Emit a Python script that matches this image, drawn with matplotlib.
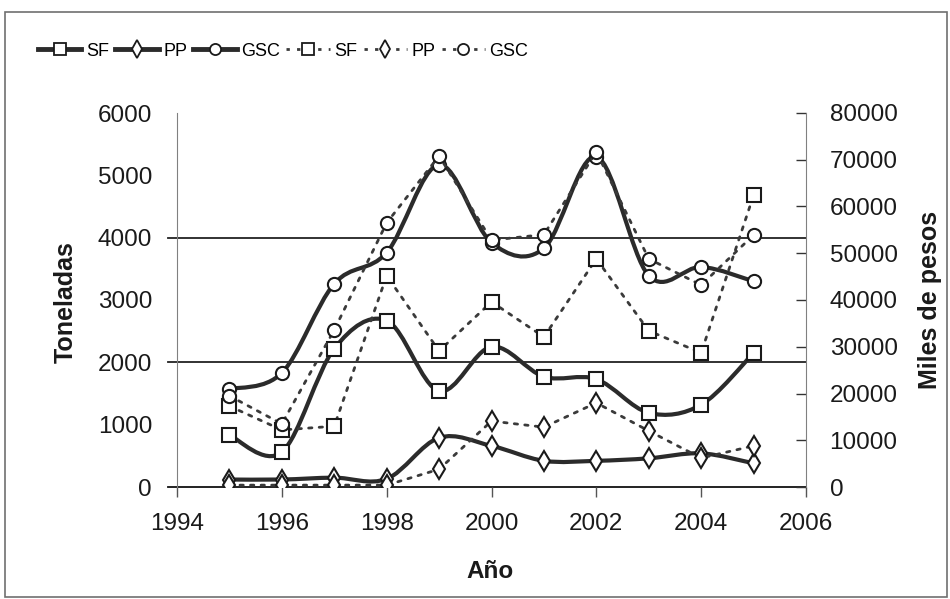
import matplotlib
matplotlib.use('Agg')
import matplotlib.pyplot as plt
from matplotlib.path import Path
from matplotlib.patches import PathPatch, Rectangle
from matplotlib.lines import Line2D

plt.rcParams['font.family'] = ['Liberation Sans', 'DejaVu Sans']

# Data
years = [1995, 1996, 1997, 1998, 1999, 2000, 2001, 2002, 2003, 2004, 2005]

# Toneladas (left axis, solid lines)
sf_ton = [830, 560, 2220, 2670, 1540, 2250, 1770, 1730, 1190, 1320, 2150]
pp_ton = [120, 120, 150, 130, 790, 660, 420, 420, 460, 540, 380]
gsc_ton = [1570, 1830, 3260, 3760, 5170, 3920, 3830, 5300, 3390, 3530, 3300]

# Miles de pesos (right axis, dotted lines)
sf_mp = [17300, 12200, 13000, 45200, 29100, 39600, 32100, 48800, 33400, 28700, 62400]
pp_mp = [400, 400, 400, 400, 3800, 14100, 12800, 18000, 12000, 6200, 8800]
gsc_mp = [19500, 13500, 33600, 56500, 70800, 52800, 54000, 71700, 48800, 43200, 53900]

series_names = ['SF', 'PP', 'GSC']
markers = {'SF': 's', 'PP': 'd', 'GSC': 'o'}
msizes = {'SF': 9.5, 'PP': 10.5, 'GSC': 9.5}

solid_col = '#2b2b2b'
dot_col = '#3a3a3a'
dot_style = (0, (1.2, 2.6))


def smooth_path(xs, ys):
    # Excel-like smoothed line: cubic bezier through points (Catmull-Rom)
    pts = list(zip(xs, ys))
    verts = [pts[0]]
    codes = [Path.MOVETO]
    n = len(pts)
    for i in range(n - 1):
        p0 = pts[i - 1] if i > 0 else pts[i]
        p1 = pts[i]
        p2 = pts[i + 1]
        p3 = pts[i + 2] if i + 2 < n else pts[i + 1]
        c1 = (p1[0] + (p2[0] - p0[0]) / 6, p1[1] + (p2[1] - p0[1]) / 6)
        c2 = (p2[0] - (p3[0] - p1[0]) / 6, p2[1] - (p3[1] - p1[1]) / 6)
        verts += [c1, c2, p2]
        codes += [Path.CURVE4] * 3
    return Path(verts, codes)


fig = plt.figure(figsize=(9.5, 5.99), dpi=100)
ax = fig.add_axes([177 / 950, 1 - 487 / 599, (806 - 177) / 950, (487 - 113) / 599])
ax2 = ax.twinx()

ax.set_xlim(1994, 2006)
ax.set_ylim(0, 6000)
ax2.set_ylim(0, 80000)

# solid lines (toneladas)
for name, vals in zip(series_names, [sf_ton, pp_ton, gsc_ton]):
    ax.add_patch(PathPatch(smooth_path(years, vals), fill=False, edgecolor=solid_col,
                           lw=3.0, zorder=3, capstyle='round', joinstyle='round'))
    ax.plot(years, vals, linestyle='none', marker=markers[name], ms=msizes[name],
            mfc='white', mec='#1a1a1a', mew=1.5, zorder=5)

# dotted lines (miles de pesos)
for name, vals in zip(series_names, [sf_mp, pp_mp, gsc_mp]):
    ax2.plot(years, vals, color=dot_col, lw=2.0, linestyle=dot_style,
             dash_capstyle='round', zorder=3)
    ax2.plot(years, vals, linestyle='none', marker=markers[name], ms=msizes[name],
             mfc='white', mec='#1a1a1a', mew=1.5, zorder=5)

# gridlines at 2000 and 4000 plus zero line, extending past the left axis
for yv, c in [(0, '#111111'), (2000, '#222222'), (4000, '#222222')]:
    ax.plot([-0.015, 1.0], [yv / 6000, yv / 6000], transform=ax.transAxes,
            color=c, lw=1.3, clip_on=False, zorder=1)

for a in (ax, ax2):
    a.spines['top'].set_visible(False)
    a.spines['bottom'].set_visible(False)
ax.spines['left'].set_color('#808080')
ax.spines['right'].set_visible(False)
ax2.spines['left'].set_visible(False)
ax2.spines['right'].set_color('#808080')

ax.set_yticks(range(0, 6001, 1000))
ax.tick_params(axis='y', length=0, pad=18, labelsize=17.5, colors='#1a1a1a')
ax.set_xticks(range(1994, 2007, 2))
ax.tick_params(axis='x', length=7, width=1.0, color='#555555', pad=12,
               labelsize=17.5, labelcolor='#1a1a1a', direction='out')
ax2.set_yticks(range(0, 80001, 10000))
ax2.tick_params(axis='y', direction='in', length=7, width=1.0, color='#333333',
                pad=17, labelsize=17.5, labelcolor='#1a1a1a')

fig.text(66 / 950, 1 - 302 / 599, 'Toneladas', rotation=90, ha='center', va='center',
         fontsize=18, fontweight='bold', color='#1a1a1a')
fig.text(930 / 950, 1 - 300 / 599, 'Miles de pesos', rotation=90, ha='center', va='center',
         fontsize=18, fontweight='bold', color='#1a1a1a')
fig.text(490 / 950, 1 - 572 / 599, 'Año', ha='center', va='center',
         fontsize=17.5, fontweight='bold', color='#1a1a1a')

handles = []
for name in series_names:
    handles.append(Line2D([], [], color=solid_col, lw=3.5, marker=markers[name],
                          ms=msizes[name] - 1.5, mfc='white', mec='#1a1a1a', mew=1.3))
for name in series_names:
    handles.append(Line2D([], [], color=dot_col, lw=2.0, linestyle=dot_style,
                          marker=markers[name], ms=msizes[name] - 1.5, mfc='white',
                          mec='#1a1a1a', mew=1.3))
fig.legend(handles, series_names * 2, loc='center left',
           bbox_to_anchor=(38 / 950, 1 - 51 / 599), ncol=6, frameon=False,
           fontsize=13, handlelength=2.4, handletextpad=0.25, columnspacing=0.35,
           borderpad=0, borderaxespad=0)

fig.patches.append(Rectangle((5 / 950, 0.003), 0.992, 1 - 12 / 599 - 0.003,
                             transform=fig.transFigure, fill=False, edgecolor='#707070',
                             lw=1.2))

fig.savefig('out.png', dpi=100)
